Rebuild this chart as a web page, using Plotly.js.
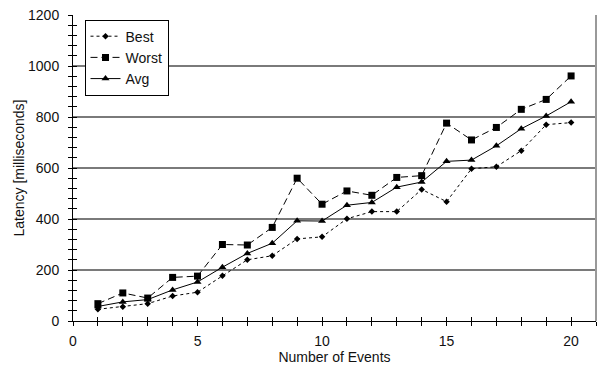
<!DOCTYPE html>
<html>
<head>
<meta charset="utf-8">
<script src="https://cdn.plot.ly/plotly-3.0.1.min.js"></script>
<style>html,body{margin:0;padding:0;background:#fff;}#chart{width:599px;height:367px;}</style>
</head>
<body>
<div id="chart"></div>
<script>
const events = [1,2,3,4,5,6,7,8,9,10,11,12,13,14,15,16,17,18,19,20];
const best  = [46,56,68,98,113,177,240,256,322,330,401,429,429,516,468,597,605,668,770,778];
const worst = [68,110,90,171,176,300,298,367,560,458,510,493,563,570,776,710,759,830,869,961];
const avg   = [57,75,84,122,153,211,265,305,393,392,454,465,525,545,626,631,687,754,804,860];
const seriesNames = ["Best","Worst","Avg"];
const xTicks = [0,5,10,15,20];
const yTicks = [0,200,400,600,800,1000,1200];

const font = {family: "Liberation Sans, Arial, sans-serif", size: 14, color: "#111"};

const traces = [
  {x: events, y: best, name: seriesNames[0], mode: "lines+markers", type: "scatter",
   line: {color: "#000", width: 1, dash: "dot"},
   marker: {symbol: "diamond", size: 5, color: "#000"}},
  {x: events, y: worst, name: seriesNames[1], mode: "lines+markers", type: "scatter",
   line: {color: "#000", width: 1, dash: "7px,4px"},
   marker: {symbol: "square", size: 7, color: "#000"}},
  {x: events, y: avg, name: seriesNames[2], mode: "lines+markers", type: "scatter",
   line: {color: "#000", width: 1},
   marker: {symbol: "triangle-up", size: 7, color: "#000"}},
  {x: [0], y: [0], xaxis: "x2", yaxis: "y2", showlegend: false, hoverinfo: "skip",
   mode: "markers", marker: {opacity: 0}}
];

const layout = {
  width: 599, height: 367,
  margin: {l: 73, r: 3, t: 15, b: 46},
  paper_bgcolor: "#fff", plot_bgcolor: "#fff",
  font: font,
  showlegend: true,
  legend: {x: 0.022, y: 0.985, xanchor: "left", yanchor: "top",
           bgcolor: "#fff", bordercolor: "#000", borderwidth: 1,
           font: {family: font.family, size: 14, color: "#111"},
           tracegroupgap: 0, itemwidth: 30},
  xaxis: {range: [0, 21], tickmode: "array", tickvals: xTicks,
          showgrid: false, zeroline: false, showline: true, linecolor: "#000", linewidth: 1,
          ticks: "outside", ticklen: 4, tickcolor: "#000",
          minor: {dtick: 1, ticks: "outside", ticklen: 4, tickcolor: "#000", showgrid: false},
          ticklabelstandoff: 3,
          title: {text: "Number of Events", font: {size: 14}, standoff: 4}},
  yaxis: {range: [0, 1200], tickmode: "array", tickvals: yTicks,
          showgrid: true, gridcolor: "#7a7a7a", gridwidth: 1.3, zeroline: false,
          showline: true, linecolor: "#000", linewidth: 1,
          ticks: "outside", ticklen: 4, tickcolor: "#000",
          minor: {dtick: 40, ticks: "outside", ticklen: 4, tickcolor: "#000", showgrid: false},
          ticklabelstandoff: 6,
          title: {text: "Latency [milliseconds]", font: {size: 14}, standoff: 0}},
  xaxis2: {overlaying: "x", range: [0, 21], tickmode: "array", tickvals: xTicks,
           showgrid: false, zeroline: false, showline: false, showticklabels: false,
           ticks: "inside", ticklen: 4, tickcolor: "#000",
           minor: {dtick: 1, ticks: "inside", ticklen: 4, tickcolor: "#000", showgrid: false}},
  yaxis2: {overlaying: "y", range: [0, 1200], tickmode: "array", tickvals: yTicks,
           showgrid: false, zeroline: false, showline: false, showticklabels: false,
           ticks: "inside", ticklen: 4, tickcolor: "#000",
           minor: {dtick: 40, ticks: "inside", ticklen: 4, tickcolor: "#000", showgrid: false}},
  shapes: [
    {type: "line", xref: "paper", yref: "paper", x0: 1, x1: 1, y0: 0, y1: 1,
     line: {color: "#999", width: 2}}
  ]
};

Plotly.newPlot("chart", traces, layout, {displayModeBar: false, staticPlot: true});
</script>
</body>
</html>
